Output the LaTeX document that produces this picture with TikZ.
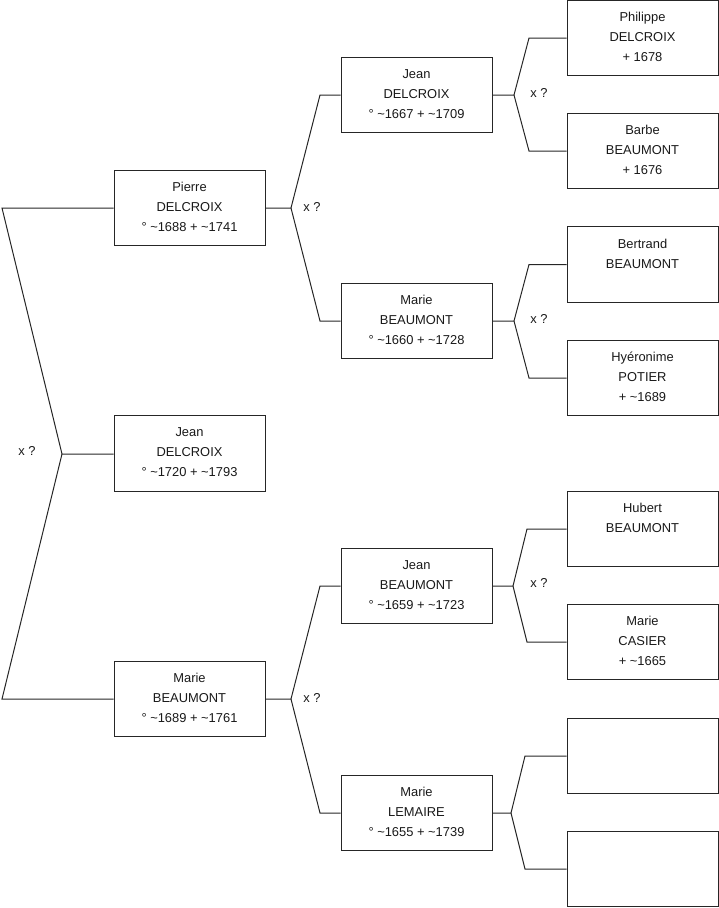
\documentclass[tikz,border=0pt]{standalone}
\usepackage{fontspec}
\setmainfont{Liberation Sans}
\newcommand\tild{\textasciitilde}
\begin{document}
\begin{tikzpicture}[x=1pt,y=-1pt,
  box/.style={draw=black!85, line width=1pt, minimum width=151pt, minimum height=75.5pt, inner sep=0pt},
  txt/.style={anchor=north, align=center, inner sep=0pt, font=\fontsize{12.9}{20}\selectfont, text=black!90, execute at begin node=\strut},
  link/.style={draw=black!85, line width=1pt},
  xq/.style={inner sep=0pt, font=\fontsize{12.9}{20}\selectfont, text=black!90}
]
\useasboundingbox (0,0) rectangle (719,908);

% generation 1
\node[box] (p1) at (189.5,208) {};
\node[box] (c)  at (189.5,453.5) {};
\node[box] (p2) at (189.5,699) {};
% generation 2
\node[box] (g1) at (416.5,95) {};
\node[box] (g2) at (416.5,321) {};
\node[box] (g3) at (416.5,586) {};
\node[box] (g4) at (416.5,813) {};
% generation 3
\node[box] (h1) at (642.5,38) {};
\node[box] (h2) at (642.5,151) {};
\node[box] (h3) at (642.5,264.5) {};
\node[box] (h4) at (642.5,378) {};
\node[box] (h5) at (642.5,529) {};
\node[box] (h6) at (642.5,642) {};
\node[box] (h7) at (642.5,756) {};
\node[box] (h8) at (642.5,869) {};

% texts
\node[txt] (tp1) at ([yshift=-12.5pt]p1.north) {Pierre\\DELCROIX\\° \tild1688 + \tild1741};
\node[txt] (tc)  at ([yshift=-12.5pt]c.north)  {Jean\\DELCROIX\\° \tild1720 + \tild1793};
\node[txt] (tp2) at ([yshift=-12.5pt]p2.north) {Marie\\BEAUMONT\\° \tild1689 + \tild1761};
\node[txt] (tg1) at ([yshift=-12.5pt]g1.north) {Jean\\DELCROIX\\° \tild1667 + \tild1709};
\node[txt] (tg2) at ([yshift=-12.5pt]g2.north) {Marie\\BEAUMONT\\° \tild1660 + \tild1728};
\node[txt] (tg3) at ([yshift=-12.5pt]g3.north) {Jean\\BEAUMONT\\° \tild1659 + \tild1723};
\node[txt] (tg4) at ([yshift=-12.5pt]g4.north) {Marie\\LEMAIRE\\° \tild1655 + \tild1739};
\node[txt] (th1) at ([yshift=-12.5pt]h1.north) {Philippe\\DELCROIX\\+ 1678};
\node[txt] (th2) at ([yshift=-12.5pt]h2.north) {Barbe\\BEAUMONT\\+ 1676};
\node[txt] (th3) at ([yshift=-12.5pt]h3.north) {Bertrand\\BEAUMONT};
\node[txt] (th4) at ([yshift=-12.5pt]h4.north) {Hyéronime\\POTIER\\+ \tild1689};
\node[txt] (th5) at ([yshift=-12.5pt]h5.north) {Hubert\\BEAUMONT};
\node[txt] (th6) at ([yshift=-12.5pt]h6.north) {Marie\\CASIER\\+ \tild1665};

% root bracket
\coordinate (r0) at (62,454);
\coordinate (rt) at (2,208);
\coordinate (rb) at (2,699);
\draw[link] (c.west |- r0) -- (r0) -- (rt) -- (p1.west);
\draw[link] (r0) -- (rb) -- (p2.west);
\node[xq] (x0) at (27,451) {x ?};

% gen1 -> gen2
\coordinate (j1) at (291,208);
\draw[link] (p1.east) -- (j1) -- (320,95) -- (g1.west);
\draw[link] (j1) -- (320,321) -- (g2.west);
\node[xq] (x1) at (312,207) {x ?};
\coordinate (j2) at (291,699);
\draw[link] (p2.east) -- (j2) -- (320,586) -- (g3.west);
\draw[link] (j2) -- (320,813) -- (g4.west);
\node[xq] (x2) at (312,698) {x ?};

% gen2 -> gen3
\coordinate (k1) at (514,95);
\draw[link] (g1.east) -- (k1) -- (529,38) -- (h1.west);
\draw[link] (k1) -- (529,151) -- (h2.west);
\node[xq] (x3) at (539,93) {x ?};
\coordinate (k2) at (514,321);
\draw[link] (g2.east) -- (k2) -- (529,264.5) -- (h3.west);
\draw[link] (k2) -- (529,378) -- (h4.west);
\node[xq] (x4) at (539,319) {x ?};
\coordinate (k3) at (513,586);
\draw[link] (g3.east) -- (k3) -- (527,529) -- (h5.west);
\draw[link] (k3) -- (527,642) -- (h6.west);
\node[xq] (x5) at (539,583) {x ?};
\coordinate (k4) at (511,813);
\draw[link] (g4.east) -- (k4) -- (525,756) -- (h7.west);
\draw[link] (k4) -- (525,869) -- (h8.west);
\end{tikzpicture}
\end{document}
